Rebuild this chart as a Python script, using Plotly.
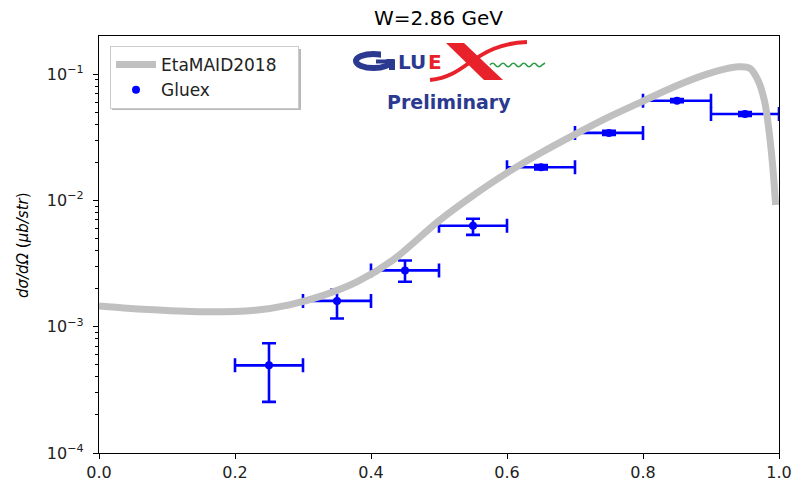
import plotly.graph_objects as go

# ---------------- data ----------------
maid_x = [0.0, 0.08, 0.16, 0.23, 0.28, 0.33, 0.38, 0.43, 0.50, 0.55, 0.60,
          0.65, 0.70, 0.75, 0.80, 0.845, 0.893, 0.94, 0.957, 0.97, 0.979, 0.986,
          0.991, 0.995]
maid_y = [1.46e-3, 1.36e-3, 1.31e-3, 1.35e-3, 1.49e-3, 1.77e-3, 2.27e-3, 3.3e-3,
          6.9e-3, 1.09e-2, 1.65e-2, 2.38e-2, 3.33e-2, 4.58e-2, 6.1e-2,
          7.9e-2, 9.95e-2, 1.14e-1, 1.11e-1, 8.7e-2, 6.0e-2, 3.3e-2, 1.8e-2, 9.2e-3]

gluex_x = [0.25, 0.35, 0.45, 0.55, 0.65, 0.75, 0.85, 0.95]
gluex_y = [4.94e-4, 1.6e-3, 2.79e-3, 6.3e-3, 1.83e-2, 3.42e-2, 6.15e-2, 4.83e-2]
gluex_err_up = [2.46e-4, 3.6e-4, 5.5e-4, 8.5e-4, 7e-4, 1.3e-3, 1.8e-3, 1.8e-3]
gluex_err_dn = [2.4e-4, 4.4e-4, 5.2e-4, 9.7e-4, 7e-4, 1.3e-3, 1.8e-3, 1.8e-3]
gluex_xerr = [0.05, 0.05, 0.05, 0.05, 0.05, 0.05, 0.05, 0.05]

x_ticks = [0.0, 0.2, 0.4, 0.6, 0.8, 1.0]
y_ticks = [1e-4, 1e-3, 1e-2, 1e-1]
y_ticktext = ["10<sup>−4</sup>", "10<sup>−3</sup>", "10<sup>−2</sup>", "10<sup>−1</sup>"]
y_minor = [m * 10.0 ** e for e in (-4, -3, -2, -1) for m in range(2, 10) if m * 10.0 ** e < 0.2]

# ---------------- geometry helpers (pixel -> paper) ----------------
W, H = 795, 485
L, R, T, B = 99, 16, 36, 32
PW, PH = W - L - R, H - T - B


def px(x):
    return (x - L) / PW


def py(y):
    return (H - B - y) / PH


def pt(x, y):
    return f"{px(x):.5f},{py(y):.5f}"


FONT = "DejaVu Sans"
BLUE = "#0000ff"
LOGO_BLUE = "#2b3990"
LOGO_RED = "#e8222a"
NBSP = "\u00a0"

fig = go.Figure()

fig.add_trace(go.Scatter(
    x=gluex_x, y=gluex_y, mode="markers", name="Gluex",
    marker=dict(color=BLUE, size=8, symbol="circle"),
    error_x=dict(type="data", array=gluex_xerr, color=BLUE, thickness=2.6, width=7),
    error_y=dict(type="data", array=gluex_err_up, arrayminus=gluex_err_dn, symmetric=False,
                 color=BLUE, thickness=2.6, width=7),
    legendrank=2,
))

fig.add_trace(go.Scatter(
    x=maid_x, y=maid_y, mode="lines", name="EtaMAID2018" + NBSP * 3,
    line=dict(color="#c0c0c0", width=7, shape="spline", smoothing=1.0),
    legendrank=1,
))

shapes = []
# legend shadow
shapes.append(dict(type="rect", xref="paper", yref="paper",
                   x0=px(112), x1=px(301), y0=py(110), y1=py(49),
                   fillcolor="rgba(0,0,0,0.28)", line=dict(width=0), layer="above"))

# --- GlueX logo (decoration) ---
shapes.append(dict(type="circle", xref="paper", yref="paper",
                   x0=px(356), x1=px(391), y0=py(68), y1=py(54),
                   line=dict(color=LOGO_BLUE, width=6), layer="above"))
shapes.append(dict(type="rect", xref="paper", yref="paper",
                   x0=px(381), x1=px(396), y0=py(59), y1=py(49),
                   fillcolor="white", line=dict(width=0), layer="above"))
shapes.append(dict(type="rect", xref="paper", yref="paper",
                   x0=px(376), x1=px(395), y0=py(63.5), y1=py(59.5),
                   fillcolor=LOGO_BLUE, line=dict(width=0), layer="above"))
shapes.append(dict(type="rect", xref="paper", yref="paper",
                   x0=px(389), x1=px(395), y0=py(70), y1=py(59.5),
                   fillcolor=LOGO_BLUE, line=dict(width=0), layer="above"))
shapes.append(dict(type="path", xref="paper", yref="paper",
                   path=f"M {pt(446,43)} L {pt(464,43)} L {pt(503,80)} L {pt(484,80)} Z",
                   fillcolor=LOGO_RED, line=dict(width=0), layer="above"))
shapes.append(dict(type="path", xref="paper", yref="paper",
                   path=f"M {pt(527,42)} C {pt(500,43)} {pt(485,52)} {pt(469,63)} "
                        f"C {pt(458,71)} {pt(448,78)} {pt(430,80)}",
                   line=dict(color=LOGO_RED, width=4), layer="above"))
wave = f"M {pt(490,65)}"
xw = 490
for i in range(10):
    yc = 61.5 if i % 2 == 0 else 68.5
    wave += f" Q {pt(xw + 2.6, yc)} {pt(xw + 5.2, 65)}"
    xw += 5.2
wave += f" L {pt(545,63)}"
shapes.append(dict(type="path", xref="paper", yref="paper", path=wave,
                   line=dict(color="#2e9e48", width=1.6), layer="above"))

annotations = [
    dict(text="LU", x=px(396), y=py(62), xref="paper", yref="paper",
         xanchor="left", yanchor="middle", showarrow=False,
         font=dict(family=FONT, size=20, color=LOGO_BLUE, weight="bold")),
    dict(text="E", x=px(426), y=py(62), xref="paper", yref="paper",
         xanchor="left", yanchor="middle", showarrow=False,
         font=dict(family=FONT, size=20, color=LOGO_RED, weight="bold")),
    dict(text="Preliminary", x=px(449), y=py(102), xref="paper", yref="paper",
         xanchor="center", yanchor="middle", showarrow=False,
         font=dict(family=FONT, size=19, color=LOGO_BLUE, weight="bold")),
    dict(text="<i>dσ/dΩ</i> (<i>μb/str</i>)", x=px(23), y=py(245), xref="paper", yref="paper",
         xanchor="center", yanchor="middle", textangle=-90, showarrow=False,
         font=dict(family=FONT, size=15, color="black")),
]

fig.update_layout(
    width=W, height=H,
    margin=dict(l=L, r=R, t=T, b=B, autoexpand=False),
    paper_bgcolor="white", plot_bgcolor="white",
    font=dict(family=FONT, size=16, color="black"),
    title=dict(text="W=2.86 GeV", x=438.5 / W, xref="container", xanchor="center",
               y=1 - 18 / H, yref="container", yanchor="middle",
               font=dict(family=FONT, size=20, color="black")),
    showlegend=True,
    legend=dict(x=px(110), y=py(46), xanchor="left", yanchor="top",
                bgcolor="white", bordercolor="#cccccc", borderwidth=1,
                font=dict(family=FONT, size=17, color="#222222"),
                itemwidth=40, tracegroupgap=0),
    shapes=shapes,
    annotations=annotations,
)

fig.update_xaxes(
    range=[0, 1], tickvals=x_ticks, ticktext=[f"{v:.1f}" for v in x_ticks],
    showline=True, linecolor="black", linewidth=1.3, mirror=True,
    ticks="outside", ticklen=5, tickwidth=1.2, tickcolor="black",
    showgrid=False, zeroline=False, tickfont=dict(size=16, color="#222222"),
    automargin=False,
)
fig.update_yaxes(
    type="log", range=[-4, -0.699], tickvals=y_ticks, ticktext=y_ticktext,
    showline=True, linecolor="black", linewidth=1.3, mirror=True,
    ticks="outside", ticklen=5, tickwidth=1.2, tickcolor="black",
    showgrid=False, zeroline=False, tickfont=dict(size=16, color="#222222"),
    ticklabelstandoff=6, automargin=False,
    minor=dict(tickvals=y_minor, ticks="outside", ticklen=3, tickwidth=1, tickcolor="black",
               showgrid=False),
)

fig.write_html("out.html")
